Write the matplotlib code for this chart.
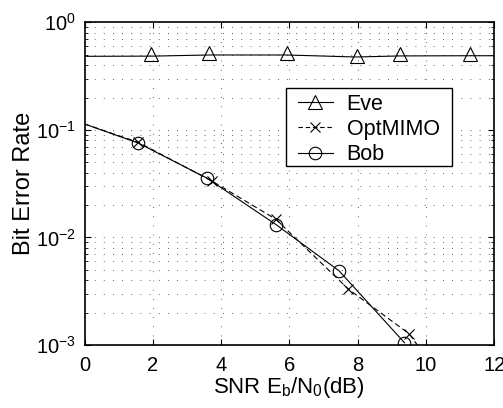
import matplotlib
matplotlib.use("Agg")
import matplotlib.pyplot as plt
from matplotlib.patches import Rectangle
from matplotlib.ticker import LogLocator, NullFormatter, FixedLocator

plt.rcParams['font.family'] = ['Liberation Sans', 'DejaVu Sans']
plt.rcParams['mathtext.fontset'] = 'custom'
plt.rcParams['mathtext.rm'] = 'Liberation Sans'
plt.rcParams['mathtext.it'] = 'Liberation Sans'

# Eve: line and marker points
eve_line_x = [0, 2.0, 3.65, 5.9, 7.95, 9.25, 11.3, 12]
eve_line_y = [0.483, 0.485, 0.497, 0.497, 0.476, 0.487, 0.489, 0.489]
eve_mark_x = [1.95, 3.65, 5.92, 7.97, 9.24, 11.29]
eve_mark_y = [0.504, 0.519, 0.522, 0.490, 0.507, 0.505]

# OptMIMO
opt_x = [0, 1.58, 3.74, 5.60, 7.73, 9.51, 9.85]
opt_y = [0.1135, 0.0765, 0.0333, 0.0148, 0.0033, 0.00127, 0.00090]

# Bob
bob_x = [0, 1.57, 3.58, 5.61, 7.45, 9.37]
bob_y = [0.1135, 0.0755, 0.0357, 0.01315, 0.00491, 0.00105]

xticks = [0, 2, 4, 6, 8, 10, 12]
labels = ['Eve', 'OptMIMO', 'Bob']

DASH = (5, 3)

fig = plt.figure(figsize=(5.03, 4.08), dpi=100)
ax = fig.add_axes([0.168, 0.1544, 0.8147, 0.7909])

ax.plot(eve_line_x, eve_line_y, '-', color='black', lw=0.8)
ax.plot(eve_mark_x, eve_mark_y, '^', color='black', mfc='none', ms=10, mew=0.8)
ax.plot(opt_x, opt_y, '--', dashes=DASH, color='black', lw=0.8, marker='x', ms=7, mew=0.8,
        markevery=list(range(1, len(opt_x) - 1)))
ax.plot(bob_x, bob_y, '-', color='black', lw=0.8, marker='o', mfc='none', ms=9, mew=0.8,
        markevery=list(range(1, len(bob_x))))

# legend proxies
h1, = ax.plot([], [], '-', color='black', lw=0.8, marker='^', mfc='none', ms=10, mew=0.8)
h2, = ax.plot([], [], '--', dashes=(4, 2.5), color='black', lw=0.8, marker='x', ms=7, mew=0.8)
h3, = ax.plot([], [], '-', color='black', lw=0.8, marker='o', mfc='none', ms=9, mew=0.8)

ax.set_yscale('log')
ax.set_xlim(0, 12)
ax.set_ylim(1e-3, 1)
ax.xaxis.set_major_locator(FixedLocator(xticks))
ax.yaxis.set_major_locator(LogLocator(base=10, numticks=10))
ax.yaxis.set_minor_locator(LogLocator(base=10, subs=range(2, 10), numticks=20))
ax.yaxis.set_minor_formatter(NullFormatter())

ax.grid(True, which='major', linestyle=(0, (1, 10)), color='#333333', lw=0.6)
ax.grid(True, which='minor', axis='y', linestyle=(0, (1, 10)), color='#333333', lw=0.6)

ax.tick_params(which='both', direction='in', top=True, right=True, labelsize=14.5)
ax.tick_params(axis='x', pad=8)
ax.tick_params(axis='y', pad=6)
ax.tick_params(which='major', length=4, width=0.8)
ax.tick_params(which='minor', length=2, width=0.6)
for s in ax.spines.values():
    s.set_linewidth(1.2)

ax.set_xlabel(r'SNR E$_\mathregular{b}$/N$_\mathregular{0}$(dB)', fontsize=16, labelpad=0)
ax.set_ylabel('Bit Error Rate', fontsize=17, labelpad=0.5)

# legend frame drawn separately
ax.add_patch(Rectangle((0.491, 0.555), 0.4065, 0.242, transform=ax.transAxes,
                       facecolor='white', edgecolor='black', lw=1.0, zorder=4.5))
leg = ax.legend([h1, h2, h3], labels, loc='upper left',
                bbox_to_anchor=(0.520, 0.779), fontsize=15.5, frameon=False,
                handlelength=1.64, handletextpad=0.64, borderpad=0,
                labelspacing=0.2, borderaxespad=0)

fig.savefig('out.png', dpi=100)
